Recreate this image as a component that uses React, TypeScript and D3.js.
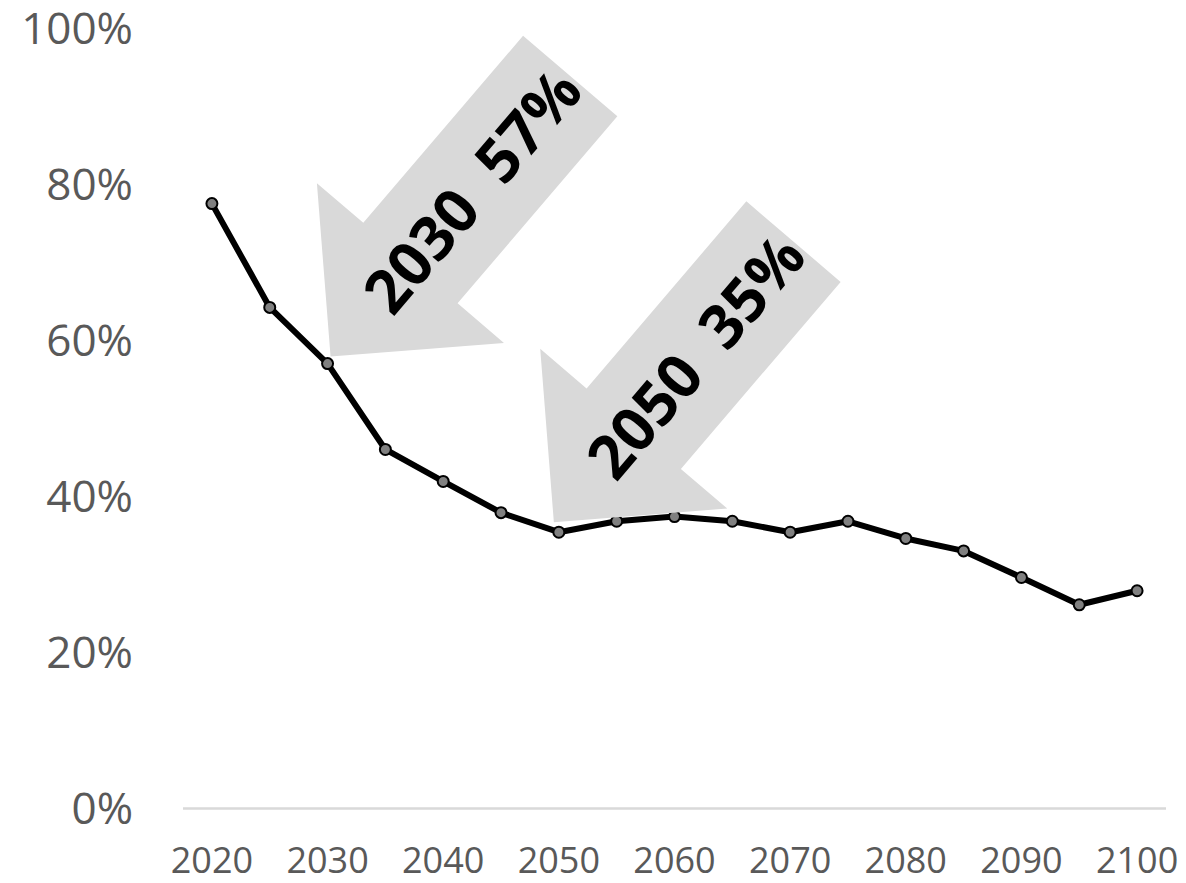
import React from "react";
import * as d3 from "d3";

// Share by year
const years = [2020, 2025, 2030, 2035, 2040, 2045, 2050, 2055, 2060, 2065, 2070, 2075, 2080, 2085, 2090, 2095, 2100];
const shares = [0.775, 0.642, 0.570, 0.460, 0.419, 0.379, 0.354, 0.368, 0.374, 0.368, 0.354, 0.368, 0.346, 0.330, 0.296, 0.261, 0.279];

const yTicks = [0, 0.2, 0.4, 0.6, 0.8, 1];
const xTickYears = [2020, 2030, 2040, 2050, 2060, 2070, 2080, 2090, 2100];

const callouts = [
  { year: 2030, value: "57%", dx: 3, dy: -7 },
  { year: 2050, value: "35%", dx: -5, dy: -10 },
];

const W = 1186;
const H = 883;

export default function App() {
  const x = d3.scaleBand<number>().domain(years).range([183, 1166]);
  const cx = (yr: number) => (x(yr) || 0) + x.bandwidth() / 2;
  const y = d3.scaleLinear().domain([0, 1]).range([808.5, 28]);

  const points = years.map((yr, i) => ({ yr, v: shares[i] }));
  const line = d3.line<{ yr: number; v: number }>()
    .x(d => cx(d.yr))
    .y(d => y(d.v));

  // block arrow shape (local coords, tip at origin, tail along +x)
  const headLen = 123, headHalf = 123, shaftHalf = 62, totalLen = 369;
  const arrowPts = [
    [0, 0], [headLen, -headHalf], [headLen, -shaftHalf], [totalLen, -shaftHalf],
    [totalLen, shaftHalf], [headLen, shaftHalf], [headLen, headHalf],
  ].map(p => p.join(",")).join(" ");
  const angle = -49.5;

  const font = "'Open Sans', sans-serif";

  return (
    <svg width={W} height={H} style={{ position: "absolute", left: 0, top: 0, background: "#fff" }}>
      {/* baseline */}
      <line x1={183} x2={1166} y1={y(0)} y2={y(0)} stroke="#d9d9d9" strokeWidth={2.5} />

      {/* y tick labels */}
      {yTicks.map(t => (
        <text key={t} x={133} y={y(t)} dy="0.36em" textAnchor="end" fill="#595959"
          fontSize={44} fontFamily={font}>
          {d3.format(".0%")(t)}
        </text>
      ))}

      {/* x tick labels */}
      {xTickYears.map(yr => (
        <text key={yr} x={cx(yr)} y={873} textAnchor="middle" fill="#595959"
          fontSize={36} fontFamily={font}>
          {yr}
        </text>
      ))}

      {/* series line */}
      <path d={line(points) || ""} fill="none" stroke="#000" strokeWidth={6} strokeLinejoin="round" />
      {points.map(p => (
        <circle key={p.yr} cx={cx(p.yr)} cy={y(p.v)} r={5.5} fill="#808080" stroke="#000" strokeWidth={2} />
      ))}

      {/* callout arrows */}
      {callouts.map(c => {
        const v = shares[years.indexOf(c.year)];
        const tx = cx(c.year) + c.dx;
        const ty = y(v) + c.dy;
        return (
          <g key={c.year} transform={`translate(${tx},${ty}) rotate(${angle})`}>
            <polygon points={arrowPts} fill="#d9d9d9" />
            <text x={218} y={0} dy="0.36em" textAnchor="middle" fill="#000" fontWeight="bold"
              fontSize={61} fontFamily={font}>
              <tspan>{c.year}</tspan>
              <tspan dx={32}>{c.value}</tspan>
            </text>
          </g>
        );
      })}
    </svg>
  );
}
